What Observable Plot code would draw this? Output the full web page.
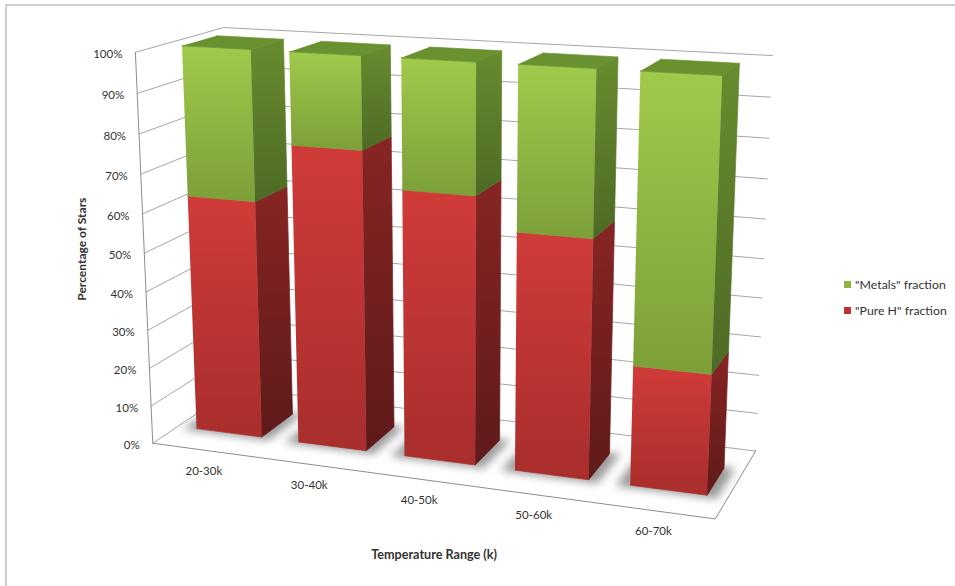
<!DOCTYPE html>
<html><head><meta charset="utf-8">
<script src="https://cdn.jsdelivr.net/npm/d3@7"></script>
<script src="https://cdn.jsdelivr.net/npm/@observablehq/plot@0.6"></script>
<style>
html,body{margin:0;background:#fff}
#chart{position:relative;width:955px;height:586px;overflow:hidden;font-family:Lato,sans-serif;color:#333}
#chart svg{position:absolute;left:0;top:0}
#frame{position:absolute;left:5px;top:4px;width:960px;height:600px;border:2px solid #cfcfcf}
.key{position:absolute;left:844px;font-size:12.3px;line-height:14px;white-space:nowrap;padding-left:11px}
.key i{position:absolute;left:0;top:3px;width:7px;height:7px}
</style>
</head><body><div id="chart"><div id="frame"></div></div>
<script>
// Percentage of stars per temperature range
const categories = ["20-30k", "30-40k", "40-50k", "50-60k", "60-70k"];
const pureH = [62, 77, 68, 60, 30];
const metals = [38, 23, 32, 40, 70];
const percentTicks = [0, 10, 20, 30, 40, 50, 60, 70, 80, 90, 100];

// Box geometry: u across the categories, v up the percent axis, w into the page
const barWidth = 0.129;
const barFront = 0.29, barBack = 0.69;

// Screen positions of the plot box corners, used to fit the perspective camera
const boxCorners = [
  [0, 0, 0, 152, 443], [1, 0, 0, 715, 518], [1, 0, 1, 755, 451], [0, 0, 1, 235, 387],
  [0, 1, 0, 135, 52], [0, 1, 1, 223, 27], [1, 1, 1, 772, 55]
];

function solveLinear(M, b) {
  const n = b.length;
  M = M.map((r, i) => [...r, b[i]]);
  for (let i = 0; i < n; i++) {
    let p = i;
    for (let k = i + 1; k < n; k++) if (Math.abs(M[k][i]) > Math.abs(M[p][i])) p = k;
    [M[i], M[p]] = [M[p], M[i]];
    for (let k = 0; k < n; k++) {
      if (k === i) continue;
      const f = M[k][i] / M[i][i];
      for (let j = i; j <= n; j++) M[k][j] -= f * M[i][j];
    }
  }
  return M.map((r, i) => r[n] / r[i]);
}

// Least-squares fit of the 3D-to-screen homography
const rows = [], rhs = [];
for (const [u, v, w, px, py] of boxCorners) {
  const x = px / 1000, y = py / 1000;
  rows.push([u, v, w, 1, 0, 0, 0, 0, -x * u, -x * v, -x * w]); rhs.push(x);
  rows.push([0, 0, 0, 0, u, v, w, 1, -y * u, -y * v, -y * w]); rhs.push(y);
}
const idx = d3.range(11);
const m = solveLinear(
  idx.map(i => idx.map(j => d3.sum(rows, r => r[i] * r[j]))),
  idx.map(i => d3.sum(rows, (r, k) => r[i] * rhs[k]))
);
function project(u, v, w) {
  const d = m[8] * u + m[9] * v + m[10] * w + 1;
  return {
    x: 1000 * (m[0] * u + m[1] * v + m[2] * w + m[3]) / d,
    y: 1000 * (m[4] * u + m[5] * v + m[6] * w + m[7]) / d
  };
}
// A polygon or polyline as rows for Plot.line
const path = (id, pts) => pts.map(([u, v, w]) => ({id, ...project(u, v, w)}));

const faces = {redFront: [], redSide: [], greenFront: [], greenSide: [], greenTop: [], shadow: []};
categories.forEach((c, i) => {
  const u0 = (i + 0.5) / categories.length - barWidth / 2 + 0.0015, u1 = u0 + barWidth;
  const w0 = barFront, w1 = barBack;
  const s = pureH[i] / 100, t = (pureH[i] + metals[i]) / 100;
  faces.redFront.push(...path(c, [[u0, 0, w0], [u1, 0, w0], [u1, s, w0], [u0, s, w0]]));
  faces.redSide.push(...path(c, [[u1, 0, w0], [u1, 0, w1], [u1, s, w1], [u1, s, w0]]));
  faces.greenFront.push(...path(c, [[u0, s, w0], [u1, s, w0], [u1, t, w0], [u0, t, w0]]));
  faces.greenSide.push(...path(c, [[u1, s, w0], [u1, s, w1], [u1, t, w1], [u1, t, w0]]));
  faces.greenTop.push(...path(c, [[u0, t, w0], [u1, t, w0], [u1, t, w1], [u0, t, w1]]));
  faces.shadow.push(...path(c, [[u0 - 0.022, 0, w0 - 0.035], [u1 + 0.018, 0, w0 - 0.035], [u1 + 0.018, 0, w1 + 0.02], [u0 - 0.022, 0, w1 + 0.02]]));
});

const gridRows = percentTicks.flatMap(p => path(p, [[0, p / 100, 0], [0, p / 100, 1], [1, p / 100, 1]]));
const floorRows = path("edge", [[0, 1, 0], [0, 0, 0], [1, 0, 0], [1, 0, 1]]);
const tickRows = percentTicks.map(p => ({label: p + "%", ...project(0, p / 100, 0)}));
const categoryRows = categories.map((c, i) => ({label: c, ...project((i + 0.5) / categories.length, 0, 0)}));

function gradient(sel, id, top, bottom) {
  const g = sel.append("linearGradient").attr("id", id).attr("x1", 0).attr("x2", 0).attr("y1", 0).attr("y2", 1);
  g.append("stop").attr("offset", 0).attr("stop-color", top);
  g.append("stop").attr("offset", 1).attr("stop-color", bottom);
}
const gradients = () => {
  const defs = d3.create("svg:defs");
  gradient(defs, "gf", "#a0ca4b", "#7c9f39");
  gradient(defs, "gs", "#688c2f", "#4d6a25");
  gradient(defs, "rf", "#d03b39", "#a82e2c");
  gradient(defs, "rs", "#872524", "#5e1a19");
  return defs.node();
};
const poly = (rows, fill, extra = {}) =>
  Plot.line(rows, {x: "x", y: "y", z: "id", fill, stroke: "none", ...extra});
// Faces are stroked in their own fill so that no seam shows between neighbours
const face = (rows, fill) => poly(rows, fill, {stroke: fill, strokeWidth: 0.7});

const labelFont = {fontFamily: "Lato, sans-serif", fill: "#333"};
const plot = Plot.plot({
  width: 955,
  height: 586,
  margin: 0,
  style: {background: "transparent"},
  x: {domain: [0, 955], range: [0, 955], axis: null},
  y: {domain: [0, 586], range: [0, 586], axis: null},
  marks: [
    gradients,
    Plot.line(gridRows, {x: "x", y: "y", z: "id", stroke: "#a6a6a6", strokeWidth: 1}),
    Plot.line(floorRows, {x: "x", y: "y", stroke: "#8c8c8c", strokeWidth: 1}),
    poly(faces.shadow, "#6f6f6f", {imageFilter: "blur(4px)", fillOpacity: 0.7}),
    face(faces.redFront, "url(#rf)"),
    face(faces.redSide, "url(#rs)"),
    face(faces.greenFront, "url(#gf)"),
    face(faces.greenSide, "url(#gs)"),
    face(faces.greenTop, "#6a9130"),
    Plot.text(tickRows, {x: "x", y: "y", text: "label", textAnchor: "end", dx: -13, dy: 2, fontSize: 11.5, ...labelFont}),
    Plot.text(categoryRows, {x: "x", y: "y", text: "label", dy: 21, fontSize: 11.5, ...labelFont}),
    Plot.text(["Percentage of Stars"], {x: project(0, 0.5, 0).x - 62, y: project(0, 0.5, 0).y - 4, text: d => d, rotate: -90, fontSize: 12, fontWeight: "bold", ...labelFont}),
    Plot.text(["Temperature Range (k)"], {x: project(0.5, 0, 0).x + 15, y: project(0.5, 0, 0).y + 76, text: d => d, fontSize: 12.6, fontWeight: "bold", ...labelFont})
  ]
});
const chart = document.getElementById("chart");
chart.append(plot);

// Legend beside the plot
[['"Metals" fraction', "#8db53f", 278], ['"Pure H" fraction', "#c0322f", 304]].forEach(([label, color, top]) => {
  const item = document.createElement("div");
  item.className = "key";
  item.style.top = top + "px";
  item.innerHTML = `<i style="background:${color}"></i>`;
  item.append(label);
  chart.append(item);
});
</script></body></html>
